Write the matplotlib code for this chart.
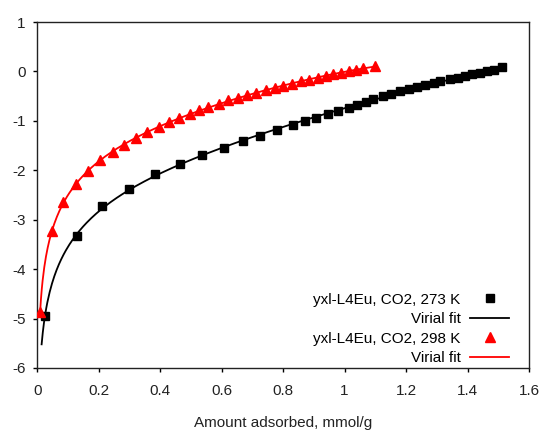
import numpy as np
import matplotlib
matplotlib.use("Agg")
import matplotlib.pyplot as plt

plt.rcParams['font.family'] = ['Liberation Sans', 'DejaVu Sans']

# CO2 at 273 K: amount adsorbed (mmol/g) vs ln(P)
n_273 = [0.026, 0.128, 0.210, 0.298, 0.384, 0.465, 0.537, 0.608, 0.669, 0.725,
         0.780, 0.831, 0.872, 0.908, 0.946, 0.977, 1.013, 1.040, 1.068, 1.094,
         1.125, 1.152, 1.179, 1.208, 1.236, 1.261, 1.290, 1.312, 1.344, 1.369,
         1.393, 1.415, 1.439, 1.462, 1.485, 1.513]
lnp_273 = [-4.94, -3.32, -2.72, -2.37, -2.08, -1.87, -1.69, -1.54, -1.40, -1.30,
           -1.19, -1.09, -1.01, -0.94, -0.865, -0.80, -0.73, -0.67, -0.615, -0.56,
           -0.50, -0.45, -0.40, -0.353, -0.32, -0.28, -0.232, -0.19, -0.158, -0.13,
           -0.09, -0.057, -0.023, 0.004, 0.038, 0.09]

# CO2 at 298 K
n_298 = [0.009, 0.048, 0.085, 0.125, 0.166, 0.204, 0.246, 0.283, 0.321, 0.358,
         0.395, 0.430, 0.462, 0.496, 0.527, 0.557, 0.592, 0.622, 0.654, 0.683,
         0.713, 0.745, 0.774, 0.801, 0.830, 0.857, 0.885, 0.913, 0.939, 0.961,
         0.988, 1.013, 1.038, 1.061, 1.098]
lnp_298 = [-4.86, -3.23, -2.65, -2.28, -2.02, -1.79, -1.63, -1.48, -1.35, -1.22,
           -1.13, -1.03, -0.945, -0.855, -0.79, -0.72, -0.65, -0.58, -0.535, -0.475,
           -0.43, -0.38, -0.333, -0.29, -0.245, -0.20, -0.165, -0.123, -0.093, -0.057,
           -0.026, 0.004, 0.03, 0.065, 0.12]

# range over which each virial fit is drawn
fit_range_273 = (0.014, 1.513)
fit_range_298 = (0.009, 1.098)

xticks = [0, 0.2, 0.4, 0.6, 0.8, 1, 1.2, 1.4, 1.6]
yticks = [-6, -5, -4, -3, -2, -1, 0, 1]


def virial_fit(n, lnp, rng, deg=3):
    """ln P = ln N + sum(c_i N^i): least squares on the polynomial part."""
    n = np.asarray(n)
    lnp = np.asarray(lnp)
    coef = np.polyfit(n, lnp - np.log(n), deg)
    grid = np.linspace(rng[0], rng[1], 400)
    return grid, np.log(grid) + np.polyval(coef, grid)


fig = plt.figure(figsize=(5.44, 4.30), dpi=100)
ax = fig.add_axes([0.0686, 0.1442, 0.9038, 0.8046])

gx, gy = virial_fit(n_273, lnp_273, fit_range_273)
rx, ry = virial_fit(n_298, lnp_298, fit_range_298)

ax.plot(n_273, lnp_273, linestyle='none', marker='s', markersize=5.5,
        color='black', label='yxl-L4Eu, CO2, 273 K', zorder=3)
ax.plot(gx, gy, color='black', linewidth=1.3, label='Virial fit', zorder=2)
ax.plot(n_298, lnp_298, linestyle='none', marker='^', markersize=6.5,
        color='#ff0000', label='yxl-L4Eu, CO2, 298 K', zorder=3)
ax.plot(rx, ry, color='#ff0000', linewidth=1.3, label='Virial fit', zorder=2)

ax.set_xlim(0, 1.6)
ax.set_ylim(-6, 1)
ax.set_xticks(xticks)
ax.set_xticklabels(['0', '0.2', '0.4', '0.6', '0.8', '1', '1.2', '1.4', '1.6'])
ax.set_yticks(yticks)
ax.set_yticklabels([str(v) for v in yticks])
ax.tick_params(axis='both', direction='out', length=3, width=1, labelsize=11,
               color='black', labelcolor='#222222')
ax.tick_params(axis='x', pad=8.5)
ax.tick_params(axis='y', pad=5.5)
for sp in ax.spines.values():
    sp.set_linewidth(1.0)
    sp.set_color('#222222')

ax.set_xlabel('Amount adsorbed, mmol/g', fontsize=11, color='#222222', labelpad=13)

ax.legend(loc='lower right', bbox_to_anchor=(0.979, -0.018), frameon=False,
          markerfirst=False, fontsize=11, handlelength=2.6, handletextpad=0.6,
          labelspacing=0.36, borderaxespad=0.2)

fig.savefig('out.png', dpi=100)
